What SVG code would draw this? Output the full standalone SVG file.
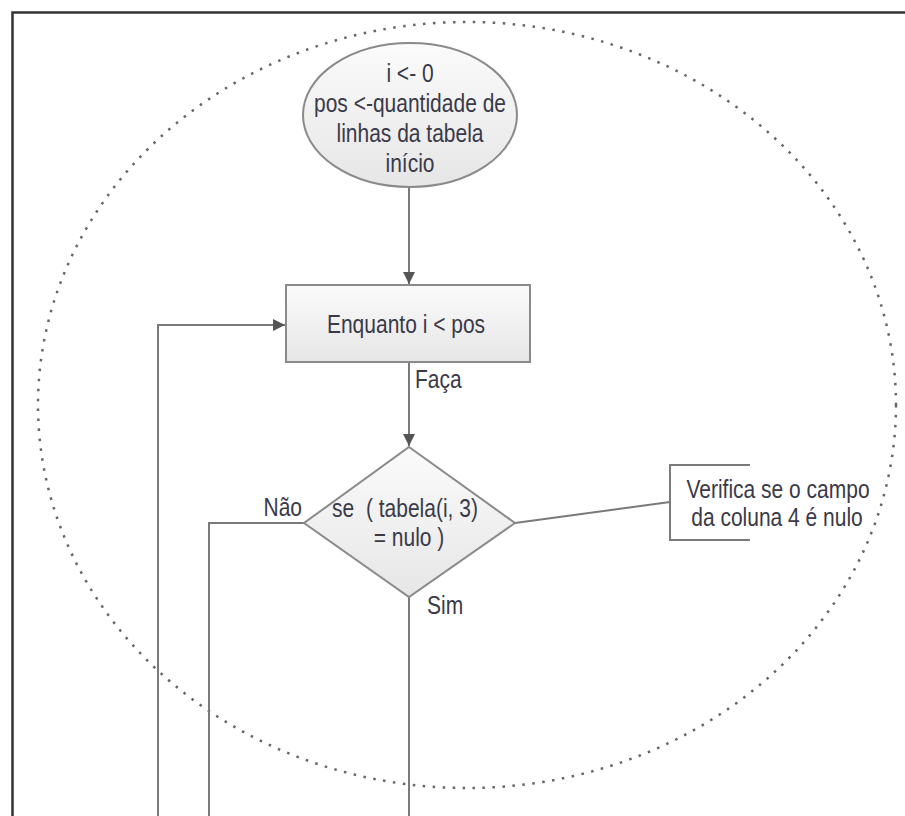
<svg xmlns="http://www.w3.org/2000/svg" width="905" height="816" viewBox="0 0 905 816">
<defs>
<linearGradient id="g" x1="0" y1="0" x2="0" y2="1"><stop offset="0" stop-color="#fbfbfb"/><stop offset="1" stop-color="#e6e6e6"/></linearGradient>
<marker id="ah" viewBox="0 0 10 10" refX="10" refY="5" markerWidth="12" markerHeight="12" markerUnits="userSpaceOnUse" orient="auto"><path d="M0,0 L10,5 L0,10 z" fill="#555"/></marker>
<style>
.t{font-family:"Liberation Sans",Arial,sans-serif;font-size:21px;fill:#3a3a48;white-space:pre}
.m{text-anchor:middle}
.c{fill:none;stroke:#7a7a7a;stroke-width:2}
.s{fill:url(#g);stroke:#8a8a8a;stroke-width:2}
</style>
</defs>
<rect width="905" height="816" fill="#fff"/>
<path d="M12.5,816 V12.5 H905" fill="none" stroke="#333" stroke-width="2.5"/>
<ellipse id="boundary" cx="467" cy="405" rx="429" ry="383" fill="none" stroke="#666" stroke-width="2.5" stroke-dasharray="2.5 7.5"/>
<g id="connectors">
<path class="c" d="M409,187 V284" marker-end="url(#ah)"/>
<path class="c" d="M409,362 V446" marker-end="url(#ah)"/>
<path class="c" d="M158,816 V325 H285" marker-end="url(#ah)"/>
<path class="c" d="M304,523 H209 V816"/>
<path class="c" d="M409,597 V816"/>
<path class="c" d="M515,523 L670,502"/>
</g>
<g id="inicio">
<ellipse class="s" cx="410" cy="115" rx="107" ry="72"/>
<text class="t m" transform="translate(410,82) scale(1,1.2)">i &lt;- 0</text>
<text class="t m" transform="translate(410,112) scale(1,1.2)">pos &lt;-quantidade de</text>
<text class="t m" transform="translate(410,142) scale(1,1.2)">linhas da tabela</text>
<text class="t m" transform="translate(410,172) scale(1,1.2)">início</text>
</g>
<g id="enquanto">
<rect class="s" x="286" y="285" width="244" height="77"/>
<text class="t m" transform="translate(406,333) scale(1,1.2)">Enquanto i &lt; pos</text>
</g>
<g id="faca-label"><text class="t" transform="translate(415,388) scale(1,1.2)">Faça</text></g>
<g id="decisao">
<path class="s" d="M409,447 L515,523 L409,597 L304,523 Z"/>
<text class="t m" transform="translate(405,517) scale(1,1.2)">se  ( tabela(i, 3)</text>
<text class="t m" transform="translate(409,546) scale(1,1.2)">= nulo )</text>
</g>
<g id="nao-label"><text class="t" transform="translate(302,516) scale(1,1.2)" text-anchor="end">Não</text></g>
<g id="sim-label"><text class="t" transform="translate(427,614) scale(1,1.2)">Sim</text></g>
<g id="anotacao">
<path class="c" d="M750,465 H670 V540 H750"/>
<text class="t m" transform="translate(778,498) scale(1,1.2)">Verifica se o campo</text>
<text class="t m" transform="translate(777,526) scale(1,1.2)">da coluna 4 é nulo</text>
</g>
</svg>
